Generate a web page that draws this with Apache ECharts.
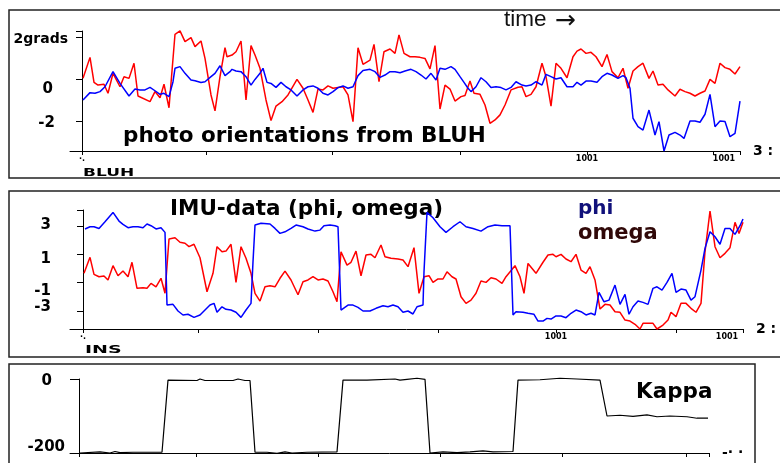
<!DOCTYPE html>
<html><head><meta charset="utf-8">
<script src="https://cdn.jsdelivr.net/npm/echarts@6/dist/echarts.min.js"></script>
<style>html,body{margin:0;padding:0;background:#fff}#c{width:780px;height:463px}</style>
</head><body><div id="c"></div>
<script>
// ---------- DATA (time, value) ----------
// Panel 1: photo orientations from BLUH (grads)
const photoOmega = [[1,0.03],[8,1.03],[12,-0.16],[16,-0.29],[22,-0.25],[26,-0.68],[31,0.27],[38,-0.37],[42,0.11],[47,0.03],[52,0.75],[56,-0.81],[68,-1.08],[73,-0.60],[78,-0.89],[82,-0.25],[87,-1.37],[93,2.13],[98,2.29],[103,1.78],[109,1.97],[113,1.54],[119,1.81],[123,0.98],[129,-0.76],[133,-1.52],[138,0.11],[143,1.49],[145,1.06],[150,1.14],[154,1.30],[159,1.81],[164,-1.0],[169,1.59],[173,1.14],[178,0.51],[184,-1.0],[189,-1.98],[194,-1.29],[200,-1.08],[206,-0.76],[215,-0.02],[221,-0.44],[226,-1.0],[231,-1.59],[236,-0.48],[241,-0.52],[246,-0.33],[251,-0.44],[256,-0.40],[261,-0.37],[266,-0.76],[271,-2.03],[276,1.49],[281,0.70],[288,0.90],[292,1.65],[297,-0.13],[302,1.30],[308,1.43],[313,1.22],[317,2.10],[322,1.22],[328,1.06],[333,1.06],[338,1.03],[343,0.98],[348,0.48],[353,1.59],[358,-1.43],[363,-0.29],[368,-0.48],[373,-1.05],[379,-0.84],[383,-0.79],[388,-0.10],[392,-0.68],[398,-0.73],[403,-1.24],[408,-2.11],[413,-1.95],[418,-1.71],[423,-1.24],[429,-0.52],[436,-0.39],[440,-0.37],[444,-0.84],[449,-0.73],[454,-0.37],[460,0.75],[464,0.11],[469,-1.29],[474,0.75],[479,0.51],[485,0.06],[491,1.06],[495,1.33],[499,1.43],[504,1.22],[509,1.27],[514,1.06],[520,0.59],[525,1.17],[530,0.35],[536,0.06],[541,0.51],[546,-0.44],[551,0.38],[556,0.59],[561,0.75],[567,0.03],[571,0.38],[576,-0.29],[581,-0.25],[586,-0.52],[593,-0.81],[598,-0.49],[603,-0.60],[608,-0.68],[613,-0.81],[618,-0.68],[623,-0.57],[628,-0.02],[633,-0.21],[638,0.75],[643,0.54],[648,0.46],[653,0.24],[658,0.59]];
const photoPhi = [[1,-1.0],[8,-0.65],[13,-0.68],[18,-0.60],[23,-0.37],[31,0.35],[38,-0.21],[47,-0.81],[53,-0.48],[58,-0.52],[63,-0.52],[68,-0.40],[73,-0.56],[78,-0.73],[82,-0.68],[87,-0.84],[91,-0.13],[93,0.51],[98,0.59],[103,0.27],[109,-0.05],[113,-0.08],[119,-0.17],[123,-0.13],[129,0.11],[133,0.27],[138,0.63],[143,0.16],[148,0.35],[150,0.46],[154,0.38],[159,0.35],[164,0.11],[169,-0.29],[173,-0.02],[178,0.27],[181,0.51],[185,-0.16],[189,-0.21],[194,-0.40],[199,-0.16],[204,-0.37],[209,-0.52],[215,-0.81],[221,-0.52],[226,-0.37],[231,-0.33],[236,-0.44],[241,-0.68],[246,-0.76],[251,-0.60],[256,-0.41],[261,-0.33],[266,-0.44],[271,-0.37],[276,0.16],[281,0.40],[288,0.46],[293,0.35],[298,0.08],[303,0.19],[308,0.35],[313,0.35],[318,0.30],[323,0.38],[329,0.46],[334,0.35],[339,0.19],[344,0.0],[349,0.27],[354,-0.05],[358,0.51],[363,0.46],[369,0.59],[373,0.46],[378,0.11],[382,-0.16],[386,-0.44],[389,-0.60],[394,-0.37],[399,0.06],[404,-0.13],[409,-0.41],[414,-0.37],[419,-0.41],[424,-0.52],[429,-0.40],[434,-0.13],[440,-0.29],[444,-0.33],[449,-0.29],[454,-0.13],[460,-0.29],[464,0.22],[469,0.11],[474,0.0],[479,0.06],[485,-0.37],[491,-0.37],[495,-0.16],[499,-0.29],[504,-0.10],[509,-0.10],[515,-0.16],[520,0.11],[525,0.27],[530,0.19],[536,0.03],[541,0.16],[544,0.06],[548,-0.44],[551,-1.87],[556,-2.27],[561,-2.43],[567,-1.48],[573,-2.67],[577,-2.03],[582,-3.43],[587,-2.67],[593,-2.54],[598,-2.67],[602,-2.83],[608,-2.0],[613,-2.0],[618,-2.06],[623,-1.68],[628,-0.73],[633,-2.27],[638,-2.0],[643,-2.03],[648,-2.75],[653,-2.59],[658,-1.05]];
const photoYTicks = [2, 0, -2];
const photoYLabels = ['2grads', '0', '-2'];
const photoXTicks = [0, 124, 250, 378, 505, 631, 658];
const photoXLabelVals = [0, 505, 658];
const photoXLabels = ['·.', '1001', '1001'];

// Panel 2: IMU data
const imuPhi = [[2,2.79],[7,2.95],[11,2.95],[16,2.83],[22,3.30],[30,3.96],[36,3.35],[40,3.12],[45,2.88],[50,2.95],[55,2.95],[60,2.88],[64,3.14],[68,3.02],[73,2.79],[78,2.88],[82,2.55],[84,-2.58],[90,-2.53],[95,-3.0],[100,-3.28],[105,-3.23],[111,-3.45],[117,-3.28],[122,-2.93],[127,-2.58],[131,-2.46],[134,-3.09],[139,-2.70],[143,-2.88],[148,-2.93],[153,-3.09],[158,-3.45],[163,-2.93],[168,-2.46],[170,0.48],[172,3.07],[178,3.19],[187,3.14],[192,2.83],[197,2.48],[202,2.59],[208,2.83],[213,3.07],[220,2.95],[225,2.79],[232,2.64],[237,2.71],[241,3.02],[247,3.07],[252,3.02],[255,2.95],[258,-2.93],[265,-2.58],[270,-2.58],[275,-2.74],[280,-3.0],[287,-3.0],[293,-2.81],[300,-2.63],[305,-2.70],[310,-2.58],[315,-2.70],[320,-3.09],[325,-3.0],[330,-3.21],[334,-2.70],[340,-2.58],[341,-0.23],[344,3.96],[350,3.58],[357,2.95],[363,2.55],[370,2.95],[377,3.30],[383,2.95],[390,2.83],[398,2.64],[405,2.95],[412,3.07],[419,3.02],[427,3.02],[430,-3.28],[433,-3.05],[440,-3.09],[445,-3.16],[451,-3.23],[455,-3.71],[460,-3.71],[464,-3.52],[468,-3.57],[473,-3.35],[478,-3.35],[483,-3.47],[488,-3.16],[493,-2.93],[498,-3.05],[503,-3.28],[508,-3.16],[512,-3.28],[516,-1.68],[521,-2.35],[526,-2.23],[532,-1.17],[537,-2.53],[542,-1.82],[546,-3.23],[550,-2.70],[555,-2.30],[560,-2.39],[565,-2.53],[570,-1.40],[574,-1.29],[579,-1.52],[584,-0.98],[589,-0.34],[593,-1.68],[598,-1.45],[603,-1.52],[608,-2.23],[612,-1.99],[618,-0.11],[622,1.42],[627,2.59],[632,2.24],[637,1.71],[642,2.83],[647,2.83],[652,2.41],[657,3.02],[660,3.49]];
const imuOmega = [[1,-0.34],[7,0.79],[11,-0.41],[16,-0.58],[21,-0.53],[25,-0.81],[30,0.20],[35,-0.51],[40,-0.18],[45,-0.58],[49,0.44],[54,-1.40],[60,-1.36],[64,-1.40],[68,-1.05],[73,-1.29],[78,-0.69],[82,-1.75],[86,2.08],[92,2.17],[97,1.85],[102,1.78],[106,1.54],[111,1.71],[117,0.76],[124,-1.64],[130,-0.34],[134,1.54],[139,1.18],[143,1.23],[148,1.71],[153,-0.98],[158,1.54],[163,0.72],[168,-0.34],[172,-1.75],[177,-2.30],[182,-1.29],[187,-1.22],[192,-1.29],[197,-0.69],[202,-0.18],[208,-0.81],[215,-1.85],[220,-0.93],[225,-0.81],[230,-0.58],[235,-0.81],[240,-0.74],[245,-0.88],[250,-1.64],[254,-2.35],[258,1.18],[264,0.24],[268,0.44],[273,1.23],[278,-0.51],[283,0.95],[288,1.0],[292,0.76],[298,1.66],[302,0.83],[308,0.72],[315,0.67],[320,0.60],[325,0.13],[331,1.47],[336,-1.75],[341,-0.58],[346,-0.51],[350,-0.98],[355,-0.74],[360,-0.74],[364,-0.23],[369,-0.58],[373,-0.74],[378,-1.99],[383,-2.46],[388,-2.23],[393,-1.75],[398,-0.88],[403,-0.98],[408,-0.65],[413,-0.74],[419,-1.05],[423,-0.58],[432,0.20],[437,-0.58],[441,-1.75],[445,0.36],[453,-0.34],[460,0.44],[465,0.95],[470,1.0],[473,0.83],[478,1.0],[483,0.67],[488,0.48],[493,1.0],[498,-0.11],[503,-0.34],[507,0.13],[512,-0.81],[517,-2.86],[522,-2.53],[527,-2.58],[532,-3.05],[537,-3.09],[542,-3.64],[547,-3.71],[552,-3.94],[557,-4.27],[560,-3.87],[565,-3.87],[570,-3.87],[574,-4.27],[580,-3.99],[585,-3.64],[588,-3.09],[593,-3.40],[598,-2.46],[603,-2.46],[608,-2.81],[613,-3.09],[618,-2.46],[622,1.18],[627,4.06],[632,1.54],[637,0.76],[642,1.07],[647,1.47],[652,3.26],[656,2.48],[660,3.26]];
const imuYTicks = [3, 1, -1, -3];
const imuYLabels = ['3', '1', '-1', '-3'];
const imuXTicks = [0, 115, 235, 355, 473, 593, 660];
const imuXLabelVals = [0, 473, 660];
const imuXLabels = ['·.', '1001', '1001'];

// Panel 3: Kappa
const kappa = [[1,-200],[21,-197],[31,-200],[36,-196],[41,-199],[54,-198],[83,-198],[89,-3],[118,-4],[121,0],[126,-4],[154,-4],[159,0],[166,-4],[171,-4],[176,-198],[188,-198],[198,-201],[206,-197],[213,-200],[228,-198],[258,-197],[264,-3],[288,-3],[316,0],[321,-3],[328,-1],[338,2],[346,-1],[351,-200],[364,-197],[378,-199],[391,-197],[404,-194],[414,-197],[434,-196],[439,-3],[461,-2],[481,2],[498,0],[521,-3],[528,-100],[541,-98],[554,-101],[568,-97],[578,-102],[591,-100],[608,-102],[618,-106],[629,-106]];
const kappaYTicks = [0, -200];
const kappaYLabels = ['0', '-200'];
const kappaXTicks = [0, 117, 239, 361, 483, 607, 630];

// ---------- CHART ----------
const FONT = 'DejaVu Sans';
const chart = echarts.init(document.getElementById('c'), null, {renderer: 'canvas'});

function lbl(vals, labels, key) {
  return v => { const i = vals.indexOf(v); return i < 0 ? '' : '{' + key + i + '|' + labels[i] + '}'; };
}
function richSet(key, pads, sizes) {
  const r = {};
  pads.forEach((p, i) => { r[key + i] = {fontFamily: FONT, fontWeight: 'bold', fontSize: sizes[i], color: '#000', padding: p}; });
  return r;
}
const axisLineStyle = {color: '#000', width: 1};

const xAxisBase = (min, max, ticks, labelVals, labels, name, namePad) => ({
  type: 'value', min: min, max: max, position: 'bottom',
  axisLine: {show: true, onZero: false, lineStyle: axisLineStyle},
  axisTick: {show: true, customValues: ticks, length: 4, lineStyle: axisLineStyle},
  axisLabel: labelVals ? {show: true, customValues: labelVals, margin: 4, formatter: lbl(labelVals, labels, 'x'),
    rich: richSet('x', [[0,0,0,0],[0,0,0,0],[0,32,0,0]], [8, 8, 8])} : {show: false},
  splitLine: {show: false},
  name: name, nameLocation: 'end', nameGap: 13,
  nameTextStyle: {fontFamily: FONT, fontWeight: 'bold', fontSize: 14, color: '#000', align: 'left', verticalAlign: 'middle', padding: namePad}
});

const option = {
  animation: false,
  backgroundColor: '#fff',
  grid: [
    {left: 70, right: 40, top: 31, height: 120, outerBoundsMode: 'none', containLabel: false},
    {left: 70, right: 37, top: 210, height: 119, outerBoundsMode: 'none', containLabel: false},
    {left: 70, right: 71, top: 379, height: 74, outerBoundsMode: 'none', containLabel: false}
  ],
  xAxis: [
    Object.assign(xAxisBase(-12, 658, photoXTicks, photoXLabelVals, photoXLabels, '3 :', [0,0,4,0]), {gridIndex: 0}),
    Object.assign(xAxisBase(-13, 660, imuXTicks, imuXLabelVals, imuXLabels, '2 :', [0,0,8,0]), {gridIndex: 1}),
    Object.assign(xAxisBase(-9, 630, kappaXTicks, null, null, '-· ·', [0,0,16,0]), {gridIndex: 2})
  ],
  yAxis: [
    {gridIndex: 0, type: 'value', min: -3.43, max: 2.286,
      axisLine: {show: true, onZero: true, lineStyle: axisLineStyle},
      axisTick: {show: true, customValues: [2.286, 2, 0, -2], length: 6, lineStyle: axisLineStyle},
      axisLabel: {show: true, customValues: photoYTicks, margin: 2, formatter: lbl(photoYTicks, photoYLabels, 'y'),
        rich: richSet('y', [[5,0,0,0],[20,15,0,0],[4,13,0,0]], [14, 15, 15])},
      splitLine: {show: false}},
    {gridIndex: 1, type: 'value', min: -4.27, max: 4.13,
      axisLine: {show: true, onZero: true, lineStyle: axisLineStyle},
      axisTick: {show: true, customValues: [4.13, 3, 1, -1, -3], length: 6, lineStyle: axisLineStyle},
      axisLabel: {show: true, customValues: imuYTicks, margin: 19, formatter: lbl(imuYTicks, imuYLabels, 'y'),
        rich: richSet('y', [[0,0,1,0],[9,0,0,0],[17,0,0,0],[0,0,7,0]], [15, 15, 15, 15])},
      splitLine: {show: false}},
    {gridIndex: 2, type: 'value', min: -200, max: 0,
      axisLine: {show: true, onZero: true, lineStyle: axisLineStyle},
      axisTick: {show: true, customValues: [0, -200], length: 9, lineStyle: axisLineStyle},
      axisLabel: {show: true, customValues: kappaYTicks, margin: 5, formatter: lbl(kappaYTicks, kappaYLabels, 'y'),
        rich: richSet('y', [[4,13,0,0],[0,0,12,0]], [15, 15])},
      splitLine: {show: false}}
  ],
  series: [
    {name: 'omega (BLUH)', type: 'line', xAxisIndex: 0, yAxisIndex: 0, data: photoOmega, showSymbol: false, symbol: 'none', clip: false, lineStyle: {color: '#ff0000', width: 1.5}},
    {name: 'phi (BLUH)', type: 'line', xAxisIndex: 0, yAxisIndex: 0, data: photoPhi, showSymbol: false, symbol: 'none', clip: false, lineStyle: {color: '#0000ff', width: 1.5}},
    {name: 'omega', type: 'line', xAxisIndex: 1, yAxisIndex: 1, data: imuOmega, showSymbol: false, symbol: 'none', clip: false, lineStyle: {color: '#ff0000', width: 1.5}},
    {name: 'phi', type: 'line', xAxisIndex: 1, yAxisIndex: 1, data: imuPhi, showSymbol: false, symbol: 'none', clip: false, lineStyle: {color: '#0000ff', width: 1.5}},
    {name: 'Kappa', type: 'line', xAxisIndex: 2, yAxisIndex: 2, data: kappa, showSymbol: false, symbol: 'none', clip: false, lineStyle: {color: '#000', width: 1.2}}
  ],
  graphic: [
    {type: 'rect', shape: {x: 9, y: 10, width: 800, height: 168}, style: {fill: 'none', stroke: '#222', lineWidth: 1.5}, silent: true},
    {type: 'rect', shape: {x: 9, y: 191, width: 800, height: 166}, style: {fill: 'none', stroke: '#222', lineWidth: 1.5}, silent: true},
    {type: 'rect', shape: {x: 9, y: 364, width: 746, height: 130}, style: {fill: 'none', stroke: '#222', lineWidth: 1.5}, silent: true},
    {type: 'text', x: 504, y: 20, style: {text: '{t|time }{a|\u2192}', textVerticalAlign: 'middle',
      rich: {t: {fontFamily: '"Liberation Sans", Arial, sans-serif', fontSize: 22.5, fill: '#111', color: '#111'},
             a: {fontFamily: 'DejaVu Sans', fontSize: 25, fill: '#111', color: '#111', padding: [2, 0, 0, 2]}}}},
    {type: 'text', x: 123, y: 136, style: {text: 'photo orientations from BLUH', font: 'bold 21.5px "DejaVu Sans"', fill: '#000', textVerticalAlign: 'middle'}},
    {type: 'text', x: 170, y: 209, style: {text: 'IMU-data (phi, omega)', font: 'bold 21.5px "DejaVu Sans"', fill: '#000', textVerticalAlign: 'middle'}},
    {type: 'text', x: 578, y: 209, style: {text: 'phi', font: 'bold 20px "DejaVu Sans"', fill: '#10107a', textVerticalAlign: 'middle'}},
    {type: 'text', x: 578, y: 234, style: {text: 'omega', font: 'bold 21px "DejaVu Sans"', fill: '#300808', textVerticalAlign: 'middle'}},
    {type: 'text', x: 636, y: 392, style: {text: 'Kappa', font: 'bold 21.5px "DejaVu Sans"', fill: '#000', textVerticalAlign: 'middle'}},
    {type: 'text', x: 83, y: 173, scaleY: 0.65, style: {text: 'BLUH', font: 'bold 17px "DejaVu Sans"', fill: '#000', textVerticalAlign: 'middle'}},
    {type: 'text', x: 85, y: 350, scaleY: 0.6, scaleX: 1.12, style: {text: 'INS', font: 'bold 17px "DejaVu Sans"', fill: '#000', textVerticalAlign: 'middle'}}
  ]
};
chart.setOption(option);
</script>
</body></html>
